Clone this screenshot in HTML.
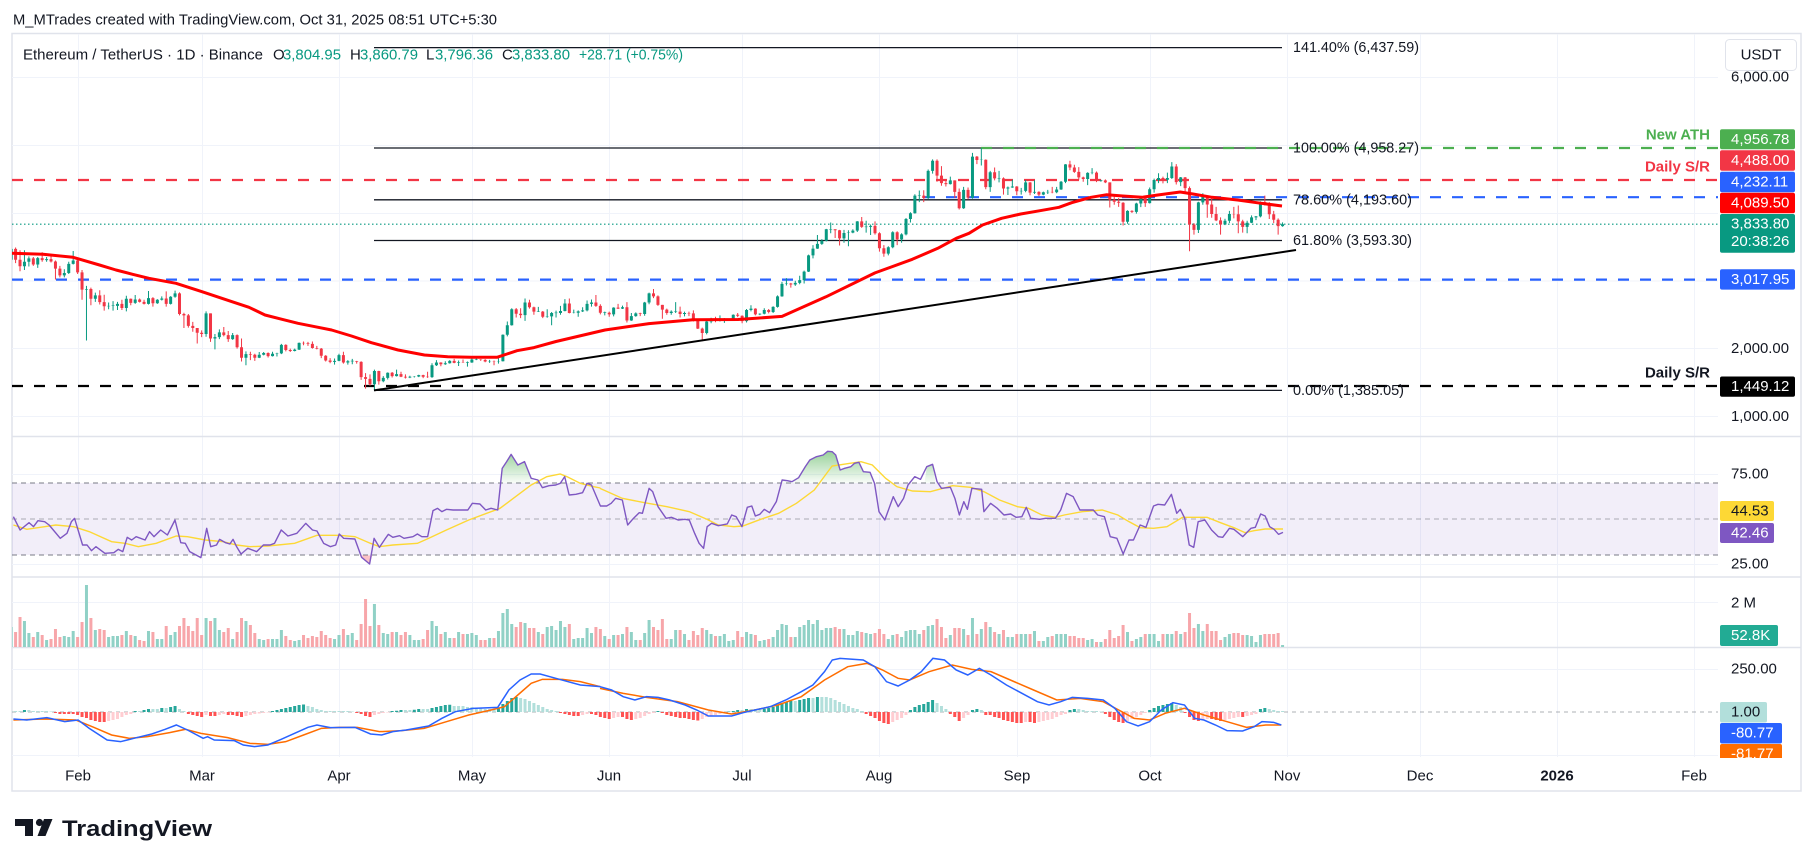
<!DOCTYPE html>
<html><head><meta charset="utf-8">
<style>
html,body{margin:0;padding:0;background:#fff;width:1814px;height:867px;overflow:hidden}
svg{display:block;font-family:"Liberation Sans",Arial,sans-serif}
.n{vector-effect:non-scaling-stroke;fill:none}
</style></head><body>
<svg width="1814" height="867" viewBox="0 0 1814 867" xmlns="http://www.w3.org/2000/svg">
<defs>
 <clipPath id="cm"><rect x="12" y="34" width="1706" height="402"/></clipPath>
 <clipPath id="cr"><rect x="12" y="437" width="1706" height="140"/></clipPath>
 <clipPath id="cv"><rect x="12" y="578" width="1706" height="69"/></clipPath>
 <clipPath id="cd"><rect x="12" y="648" width="1706" height="109"/></clipPath>
 <clipPath id="cax"><rect x="1700" y="648" width="114" height="110"/></clipPath>
 <linearGradient id="gg" x1="0" y1="60" x2="0" y2="160" gradientUnits="userSpaceOnUse"><stop offset="0" stop-color="#4caf50" stop-opacity="0.6"/><stop offset="1" stop-color="#4caf50" stop-opacity="0.03"/></linearGradient>
</defs>

<text x="13" y="20" font-size="15" fill="#131722" dominant-baseline="central" textLength="484" lengthAdjust="spacingAndGlyphs">M_MTrades created with TradingView.com, Oct 31, 2025 08:51 UTC+5:30</text>

<rect x="12" y="33.5" width="1789" height="757.5" fill="none" stroke="#e0e3eb" stroke-width="1.5"/>

<g stroke="#f0f3fa" stroke-width="1">
 <line x1="78.5" y1="34" x2="78.5" y2="757"/>
 <line x1="202.5" y1="34" x2="202.5" y2="757"/>
 <line x1="339.5" y1="34" x2="339.5" y2="757"/>
 <line x1="472.5" y1="34" x2="472.5" y2="757"/>
 <line x1="609.5" y1="34" x2="609.5" y2="757"/>
 <line x1="742.5" y1="34" x2="742.5" y2="757"/>
 <line x1="879.5" y1="34" x2="879.5" y2="757"/>
 <line x1="1017.5" y1="34" x2="1017.5" y2="757"/>
 <line x1="1150.5" y1="34" x2="1150.5" y2="757"/>
 <line x1="1287.5" y1="34" x2="1287.5" y2="757"/>
 <line x1="1420.5" y1="34" x2="1420.5" y2="757"/>
 <line x1="1557.5" y1="34" x2="1557.5" y2="757"/>
 <line x1="1694.5" y1="34" x2="1694.5" y2="757"/>
</g>
<g stroke="#f0f3fa" stroke-width="1">
 <line x1="12" y1="77.5" x2="1718" y2="77.5"/>
 <line x1="12" y1="145.5" x2="1718" y2="145.5"/>
 <line x1="12" y1="213.5" x2="1718" y2="213.5"/>
 <line x1="12" y1="281" x2="1718" y2="281"/>
 <line x1="12" y1="348.5" x2="1718" y2="348.5"/>
 <line x1="12" y1="416.5" x2="1718" y2="416.5"/>
 <line x1="12" y1="474.5" x2="1718" y2="474.5"/>
 <line x1="12" y1="564.5" x2="1718" y2="564.5"/>
 <line x1="12" y1="602.5" x2="1718" y2="602.5"/>
 <line x1="12" y1="669.5" x2="1718" y2="669.5"/>
 <line x1="12" y1="755.5" x2="1718" y2="755.5"/>
</g>
<g stroke="#e0e3eb" stroke-width="1.5">
 <line x1="12" y1="436.5" x2="1801" y2="436.5"/>
 <line x1="12" y1="577" x2="1801" y2="577"/>
 <line x1="12" y1="647.5" x2="1801" y2="647.5"/>
</g>

<rect x="12" y="483" width="1706" height="72" fill="#7e57c2" fill-opacity="0.1"/>
<g stroke="#787b86" stroke-width="1" stroke-dasharray="5 4">
 <line x1="12" y1="483" x2="1718" y2="483"/>
 <line x1="12" y1="519" x2="1718" y2="519" stroke-opacity="0.6"/>
 <line x1="12" y1="555" x2="1718" y2="555"/>
</g>
<line x1="12" y1="712" x2="1718" y2="712" stroke="#787b86" stroke-opacity="0.6" stroke-dasharray="4 4"/>

<g clip-path="url(#cm)">
 <line x1="12" y1="224.2" x2="1718" y2="224.2" stroke="#089981" stroke-width="1.2" stroke-dasharray="1.5 2.5"/>
 <line x1="12" y1="180" x2="1718" y2="180" stroke="#f23645" stroke-width="2.2" stroke-dasharray="11 11"/>
 <line x1="924" y1="197.2" x2="1718" y2="197.2" stroke="#2962ff" stroke-width="2.2" stroke-dasharray="11 11"/>
 <line x1="12" y1="279.6" x2="1718" y2="279.6" stroke="#2962ff" stroke-width="2.2" stroke-dasharray="11 11"/>
 <line x1="12" y1="386" x2="1718" y2="386" stroke="#000" stroke-width="2.2" stroke-dasharray="11 11"/>
 <g stroke="#131722" stroke-width="1.3">
  <line x1="374" y1="47.6" x2="1282" y2="47.6"/>
  <line x1="374" y1="148" x2="1282" y2="148"/>
  <line x1="374" y1="199.8" x2="1282" y2="199.8"/>
  <line x1="374" y1="240.5" x2="1282" y2="240.5"/>
  <line x1="374" y1="390.4" x2="1282" y2="390.4"/>
 </g>
 <line x1="981" y1="148" x2="1718" y2="148" stroke="#4caf50" stroke-width="2.2" stroke-dasharray="11 11"/>

 <g transform="matrix(4.43 0 0 -0.06785 6.73 484.35)">
  <path class="n" stroke="#089981" stroke-width="1" d="M1 3525V3290M4 3450V3160M5 3360V3210M7 3350V3190M9 3350V3280M13 3170V3050M14 3280V3100M15 3440V3240M18 2925V2120M20 2825V2690M23 2680V2580M24 2700V2560M25 2690V2570M27 2780V2550M29 2790V2660M32 2850V2650M34 2730V2660M35 2770V2710M37 2775V2650M38 2855V2750M45 2550V2175M47 2215V1990M48 2285V2140M51 2230V2130M54 1960V1755M57 1950V1860M58 1950V1900M60 1955V1885M61 1940V1885M62 2070V1920M65 2000V1960M66 2090V1980M74 1855V1765M75 1925V1815M77 1830V1765M78 1850V1770M83 1690V1385M85 1595V1505M86 1650V1545M88 1690V1590M91 1600V1565M92 1595V1575M93 1615V1580M96 1785V1570M97 1830V1745M99 1815V1760M100 1830V1780M102 1825V1745M104 1810V1735M105 1875V1790M106 1870V1830M109 1835V1790M111 1860V1780M112 2210V1810M113 2400V2180M114 2595V2340M117 2740V2410M120 2615V2540M122 2580V2455M123 2540V2345M124 2560V2460M125 2630V2500M126 2730V2550M128 2575V2520M129 2565V2470M130 2610V2540M131 2710V2550M132 2725V2620M135 2545V2490M137 2610V2475M139 2635V2585M141 2525V2410M142 2535V2470M144 2690V2485M145 2825V2655M150 2565V2500M151 2685V2525M153 2545V2475M158 2410V2210M159 2455V2375M161 2490V2400M162 2450V2380M163 2445V2410M164 2505V2425M167 2585V2385M168 2640V2550M170 2520V2495M171 2595V2505M173 2625V2525M174 2785V2605M175 2985V2765M176 3040V2930M178 3000V2925M179 3075V2950M180 3150V2960M181 3385V3130M182 3525V3330M183 3675V3470M184 3615V3530M185 3765V3580M186 3860V3700M189 3750V3560M190 3745V3510M191 3760V3700M192 3880V3720M194 3885V3710M195 3830V3675M199 3510V3375M200 3730V3480M202 3700V3560M203 3925V3670M204 4010V3860M205 4275V3990M206 4330V4160M208 4640V4200M209 4790V4580M213 4535V4420M216 4385V4060M218 4885V4210M220 4956V4700M222 4620V4310M224 4620V4450M226 4390V4265M227 4490V4370M229 4370V4270M230 4485V4305M232 4480V4280M234 4315V4260M235 4340V4280M237 4385V4290M238 4470V4340M239 4720V4440M244 4600V4410M245 4660V4570M247 4490V4460M253 4040V3840M255 4150V3990M256 4240V4085M258 4375V4140M259 4505V4300M260 4585V4440M262 4595V4440M263 4750V4500M265 4530V4395M269 4165V3705M270 4290V4120M275 3915V3820M276 4030V3850M280 3885V3700M281 3965V3850M282 3955V3895M283 4170V3935M288 3861V3796"/>
  <path class="n" stroke="#f23645" stroke-width="1" d="M0 3470V3270M2 3490V3260M3 3450V3140M6 3350V3220M8 3420V3280M10 3370V3270M11 3300V3020M12 3220V3050M16 3330V3100M17 3160V2720M19 2900V2640M21 2860V2650M22 2795V2560M26 2720V2570M28 2740V2640M30 2740V2680M31 2720V2650M33 2760V2620M36 2845V2620M39 2830V2490M40 2530V2305M41 2510V2310M42 2395V2250M43 2305V2075M44 2270V2170M46 2520V2100M49 2320V2180M50 2260V2100M52 2210V2000M53 2150V1810M55 1955V1830M56 1925V1820M59 1945V1870M63 2065V1960M64 2000V1950M67 2105V2050M68 2100V2040M69 2105V2000M70 2040V1990M71 2010V1860M72 1905V1810M73 1860V1785M76 1955V1780M79 1820V1780M80 1815V1540M81 1640V1410M82 1620V1455M84 1675V1470M87 1655V1575M89 1660V1580M90 1620V1560M94 1615V1565M95 1660V1570M98 1800V1740M101 1850V1785M103 1840V1790M107 1845V1820M108 1845V1800M110 1825V1755M115 2600V2460M116 2595V2450M118 2720V2590M119 2620V2500M121 2555V2450M127 2740V2520M133 2790V2615M134 2655V2505M136 2545V2470M138 2660V2585M140 2685V2385M143 2530V2480M146 2880V2745M147 2785V2630M148 2645V2440M149 2590V2500M152 2620V2460M154 2545V2480M155 2565V2400M156 2435V2290M157 2310V2110M160 2470V2390M165 2525V2465M166 2490V2375M169 2595V2490M172 2585V2520M177 2970V2900M187 3760V3630M188 3750V3520M193 3940V3780M196 3875V3680M197 3715V3430M198 3525V3355M201 3730V3525M207 4335V4160M210 4790V4460M211 4690V4400M212 4480V4390M214 4480V4220M215 4360V4050M217 4375V4200M219 4840V4720M221 4790V4350M223 4670V4480M225 4525V4270M228 4395V4260M231 4455V4260M233 4320V4250M236 4385V4290M240 4770V4630M241 4710V4590M242 4675V4490M243 4535V4460M246 4610V4455M248 4495V4440M249 4450V4080M250 4240V4120M251 4220V4090M252 4160V3815M254 4040V4000M257 4235V4090M261 4535V4435M264 4720V4420M266 4530V4300M267 4390V3435M268 3850V3680M271 4255V3930M272 4215V3930M273 4090V3880M274 3935V3680M277 4090V3920M278 4110V3700M279 3900V3710M284 4255V4110M285 4160V3910M286 4030V3850M287 3920V3680"/>
  <path class="n" stroke="#089981" stroke-width="3" d="M1 3310V3470M4 3215V3280M5 3280V3330M7 3240V3335M9 3305V3320M13 3080V3115M14 3115V3250M15 3250V3300M18 2870V2880M20 2735V2785M23 2625V2630M24 2628V2636M25 2630V2660M27 2600V2735M29 2675V2725M32 2660V2745M34 2670V2720M35 2720V2740M37 2660V2765M38 2765V2815M45 2215V2520M47 2150V2170M48 2170V2240M51 2140V2200M54 1865V1920M57 1865V1910M58 1910V1935M60 1890V1925M61 1925V1930M62 1930V2055M65 1965V1985M66 1985V2085M74 1805V1820M75 1820V1905M77 1795V1815M78 1813V1821M83 1475V1670M85 1520V1570M86 1570V1645M88 1595V1625M91 1575V1585M92 1585V1590M93 1590V1610M96 1580V1755M97 1755V1795M99 1770V1785M100 1785V1820M102 1790V1800M104 1793V1801M105 1795V1840M106 1838V1846M109 1810V1815M111 1810V1815M112 1815V2205M113 2205V2345M114 2345V2580M117 2495V2680M120 2543V2551M122 2470V2475M123 2475V2525M124 2523V2531M125 2525V2555M126 2555V2665M128 2525V2530M129 2530V2550M130 2550V2565M131 2565V2660M132 2660V2680M135 2528V2536M137 2505V2605M139 2590V2610M141 2415V2480M142 2480V2520M144 2510V2680M145 2680V2815M150 2525V2545M151 2543V2551M153 2510V2525M158 2230V2400M159 2400V2445M161 2415V2420M162 2420V2425M163 2425V2435M164 2435V2500M167 2405V2570M168 2570V2590M170 2505V2515M171 2515V2570M173 2540V2615M174 2615V2770M175 2770V2955M176 2955V2960M178 2945V2970M179 2970V3010M180 3010V3135M181 3135V3375M182 3375V3475M183 3475V3545M184 3545V3590M185 3590V3760M186 3756V3764M189 3625V3705M190 3705V3710M191 3710V3740M192 3740V3875M194 3791V3799M195 3795V3810M199 3400V3495M200 3495V3715M202 3610V3685M203 3685V3910M204 3910V3995M205 3995V4255M206 4251V4259M208 4220V4620M209 4620V4770M213 4425V4480M216 4070V4340M218 4225V4830M220 4780V4785M222 4380V4600M224 4506V4514M226 4360V4375M227 4375V4390M229 4320V4325M230 4325V4450M232 4300V4310M234 4270V4305M235 4305V4310M237 4305V4345M238 4345V4460M239 4460V4715M244 4500V4590M245 4590V4595M247 4470V4480M253 3870V4030M255 4015V4140M256 4140V4215M258 4145V4350M259 4350V4485M260 4485V4515M262 4490V4515M263 4515V4685M265 4455V4525M269 3750V4155M270 4155V4245M275 3830V3885M276 3885V3985M280 3795V3855M281 3855V3935M282 3935V3950M283 3950V4160M288 3805V3834"/>
  <path class="n" stroke="#f23645" stroke-width="3" d="M0 3440V3310M2 3470V3310M3 3310V3215M6 3330V3240M8 3335V3305M10 3320V3285M11 3285V3180M12 3180V3080M16 3300V3125M17 3125V2870M19 2880V2735M21 2785V2685M22 2685V2625M26 2660V2600M28 2735V2675M30 2725V2690M31 2690V2660M33 2745V2670M36 2740V2660M39 2815V2510M40 2510V2490M41 2490V2335M42 2335V2305M43 2305V2235M44 2235V2215M46 2520V2150M49 2240V2200M50 2200V2140M52 2200V2020M53 2020V1865M55 1920V1910M56 1910V1865M59 1935V1890M63 2055V1980M64 1980V1965M67 2085V2080M68 2080V2070M69 2070V2010M70 2010V2000M71 2000V1895M72 1895V1825M73 1825V1805M76 1905V1795M79 1815V1805M80 1805V1580M81 1580V1555M82 1555V1475M84 1670V1520M87 1645V1595M89 1625V1585M90 1585V1575M94 1610V1585M95 1585V1580M98 1795V1770M101 1820V1790M103 1800V1795M107 1840V1835M108 1835V1810M110 1815V1810M115 2580V2515M116 2515V2495M118 2680V2610M119 2610V2545M121 2545V2470M127 2665V2525M133 2680V2630M134 2630V2530M136 2530V2505M138 2605V2590M140 2610V2415M143 2520V2510M146 2815V2770M147 2770V2645M148 2645V2575M149 2575V2525M152 2545V2510M154 2525V2520M155 2520V2410M156 2410V2295M157 2295V2230M160 2445V2415M165 2500V2485M166 2485V2405M169 2590V2505M172 2570V2540M177 2960V2945M187 3760V3745M188 3745V3625M193 3875V3795M196 3810V3700M197 3700V3480M198 3480V3400M201 3715V3610M207 4255V4220M210 4770V4550M211 4550V4440M212 4440V4425M214 4480V4310M215 4310V4070M217 4340V4225M219 4830V4780M221 4785V4380M223 4600V4510M225 4510V4360M228 4390V4320M231 4450V4300M233 4310V4270M236 4310V4305M240 4715V4670M241 4670V4605M242 4605V4525M243 4525V4500M246 4595V4470M248 4480V4450M249 4450V4195M250 4195V4165M251 4165V4150M252 4150V3870M254 4030V4015M257 4215V4145M261 4515V4490M264 4685V4455M266 4525V4365M267 4365V3830M268 3830V3750M271 4245V4125M272 4125V3985M273 3985V3890M274 3890V3830M277 3985V3980M278 3980V3875M279 3875V3795M284 4160V4120M285 4120V3980M286 3980V3900M287 3900V3805"/>
 </g>

 <polyline fill="none" stroke="#ff0000" stroke-width="3" stroke-linejoin="round" points="12,253.3 43,254.3 73,257.3 80,259.3 99.5,265 116,270 132.6,274.3 149,278.3 176,283.3 202,291.7 232,301.7 249,307.3 265,315 282,319.3 298,323.3 315,326.7 331.6,330 351.5,336 371.4,342.7 398,350 424.4,355 447.7,356.7 471,357.3 497,357.3 507,354 517,350.7 534,347.6 556,341.5 605,330 649,323.6 693,319.8 738,319.5 782,316.4 826,296.8 875,272.9 912.3,259.3 937.8,248.3 956.3,238.3 969,233.3 982.5,225 1001.6,218.3 1020.7,214 1040,210.7 1059,207.3 1071.7,202.7 1091,197.3 1106.8,194.7 1122.8,196 1141.9,197.3 1157.8,195 1180.2,192 1193,194 1212,197.3 1237.6,200 1256.7,202.7 1282,206"/>
 <line x1="374" y1="390.4" x2="1296" y2="250" stroke="#000" stroke-width="2"/>
</g>

<g font-size="15" fill="#131722" dominant-baseline="central">
 <text x="1293" y="47.6" textLength="126" lengthAdjust="spacingAndGlyphs">141.40% (6,437.59)</text>
 <text x="1293" y="148" textLength="126" lengthAdjust="spacingAndGlyphs">100.00% (4,958.27)</text>
 <text x="1293" y="199.8" textLength="119" lengthAdjust="spacingAndGlyphs">78.60% (4,193.60)</text>
 <text x="1293" y="240.5" textLength="119" lengthAdjust="spacingAndGlyphs">61.80% (3,593.30)</text>
 <text x="1293" y="390.4" textLength="111" lengthAdjust="spacingAndGlyphs">0.00% (1,385.05)</text>
</g>
<g font-size="15" font-weight="bold" dominant-baseline="central" text-anchor="end">
 <text x="1710" y="135" fill="#4caf50">New ATH</text>
 <text x="1710" y="167" fill="#f23645">Daily S/R</text>
 <text x="1710" y="373" fill="#131722">Daily S/R</text>
</g>

<g font-size="15" dominant-baseline="central">
 <text x="23" y="55" fill="#131722" textLength="240" lengthAdjust="spacingAndGlyphs">Ethereum / TetherUS · 1D · Binance</text>
 <text x="273" y="55" fill="#131722">O</text>
 <text x="283" y="55" fill="#089981" textLength="58" lengthAdjust="spacingAndGlyphs">3,804.95</text>
 <text x="350" y="55" fill="#131722">H</text>
 <text x="360" y="55" fill="#089981" textLength="58" lengthAdjust="spacingAndGlyphs">3,860.79</text>
 <text x="426" y="55" fill="#131722">L</text>
 <text x="435" y="55" fill="#089981" textLength="58" lengthAdjust="spacingAndGlyphs">3,796.36</text>
 <text x="502" y="55" fill="#131722">C</text>
 <text x="512" y="55" fill="#089981" textLength="58" lengthAdjust="spacingAndGlyphs">3,833.80</text>
 <text x="579" y="55" fill="#089981" textLength="104" lengthAdjust="spacingAndGlyphs">+28.71 (+0.75%)</text>
</g>

<!-- RSI -->
<g clip-path="url(#cr)">
 <g transform="translate(0 430) scale(0.4464 0.33333)">
  <polygon fill="url(#gg)" points="1122,160 1125,115 1135,95 1145,73 1160,105 1175,95 1190,145 1198,160"/>
  <polygon fill="#f23645" fill-opacity="0.3" points="806,376 810,382 828,402 834,376"/>
  <polyline class="n" stroke="#fdd835" stroke-width="1.4" points="30,285 60,298 100,290 125,285 165,290 200,305 250,335 280,340 310,350 350,340 395,318 420,320 460,330 500,335 530,345 560,350 600,348 660,340 710,316 760,316 795,320 830,340 850,350 880,345 935,340 960,325 1000,300 1050,270 1120,235 1150,205 1190,165 1225,140 1255,132 1270,140 1300,160 1330,170 1345,174"/>
  <polyline class="n" stroke="#7e57c2" stroke-width="1.4" stroke-linejoin="round" points="30,260 45,300 65,278 75,290 85,272 100,275 110,285 135,325 150,310 160,275 167,265 185,345 195,345 205,362 215,350 235,370 255,368 265,358 275,365 285,322 295,330 305,320 325,330 335,305 345,320 360,300 375,315 392,270 405,338 415,340 425,365 450,383 463,295 472,350 485,345 492,328 505,338 515,342 522,328 530,350 540,372 555,355 575,365 590,345 605,345 615,340 630,300 645,318 665,310 685,280 700,300 710,303 725,340 740,350 752,345 760,312 770,325 795,327 810,382 828,402 838,325 850,352 862,328 870,313 880,322 895,317 905,325 925,320 935,312 945,320 958,320 970,242 980,235 990,245 1000,238 1015,240 1048,240 1058,220 1075,222 1088,240 1100,235 1115,240 1125,115 1135,95 1145,73 1160,105 1175,95 1190,145 1205,150 1215,173 1230,167 1245,165 1255,160 1265,140 1275,195 1290,193 1305,188 1315,160 1325,165 1345,228"/>
 </g>
 <g transform="translate(600 430) scale(0.4464 0.33333)">
  <polygon fill="url(#gg)" points="402,160 408,150 420,152 430,155 445,143 460,110 470,90 485,80 500,75 510,64 520,65 528,75 538,120 548,115 562,110 570,100 580,97 590,125 605,127 612,160"/>
  <polygon fill="url(#gg)" points="727,160 732,110 745,103 752,160"/>
  <polyline class="n" stroke="#fdd835" stroke-width="1.4" points="0,175 50,205 100,218 150,230 200,245 240,268 265,285 300,290 320,288 360,268 400,250 440,220 480,180 520,108 560,100 585,95 610,105 640,145 665,170 700,183 740,185 760,178 790,167 830,172 860,185 895,210 935,230 960,235 990,255 1020,262 1040,255 1080,245 1125,240 1160,255 1185,275 1210,293 1240,295 1270,290 1305,262 1330,262 1360,262 1390,278 1420,293 1445,308 1465,302 1490,297 1530,297"/>
  <polyline class="n" stroke="#7e57c2" stroke-width="1.4" stroke-linejoin="round" points="0,228 15,228 25,220 35,205 50,210 62,285 75,265 88,248 95,250 110,175 118,185 130,230 148,265 160,262 175,270 190,268 200,270 212,310 222,340 232,355 240,290 250,280 265,287 285,282 295,255 305,260 318,290 330,232 340,228 348,258 358,253 368,238 380,248 395,215 408,150 420,152 430,155 445,143 460,110 470,90 485,80 500,75 510,64 520,65 528,75 538,120 548,115 562,110 570,100 580,97 590,125 605,127 615,160 625,245 638,270 657,200 668,230 680,205 690,165 705,140 718,148 732,110 745,103 755,155 765,175 785,172 795,205 805,255 815,215 823,238 833,175 855,178 860,245 875,220 890,235 905,255 920,252 932,262 945,260 955,232 965,265 985,268 998,265 1020,265 1032,240 1045,190 1060,200 1075,240 1090,240 1105,240 1115,255 1130,260 1143,320 1158,325 1172,372 1185,330 1195,330 1210,285 1223,292 1240,228 1250,223 1265,225 1280,193 1292,250 1300,238 1310,265 1320,345 1330,352 1340,275 1355,270 1370,300 1385,320 1395,322 1410,295 1420,298 1440,320 1458,295 1468,292 1480,252 1490,258 1500,290 1510,298 1520,313 1530,307"/>
 </g>
</g>

<!-- Volume -->
<g clip-path="url(#cv)">
 <g transform="matrix(4.43 0 0 1 6.73 647)">
  <path class="n" stroke="#90d1c6" stroke-width="3" d="M1 0V-20M4 0V-26M5 0V-14M7 0V-15M9 0V-7M13 0V-11M14 0V-10M15 0V-16M18 0V-62M20 0V-17M23 0V-10M24 0V-11M25 0V-11M27 0V-16M29 0V-11M32 0V-16M34 0V-8M35 0V-8M37 0V-12M38 0V-15M45 0V-29M47 0V-29M48 0V-17M51 0V-8M54 0V-26M57 0V-8M58 0V-7M60 0V-8M61 0V-8M62 0V-17M65 0V-6M66 0V-7M74 0V-8M75 0V-12M77 0V-12M78 0V-14M83 0V-43M85 0V-14M86 0V-13M88 0V-15M91 0V-12M92 0V-7M93 0V-7M96 0V-26M97 0V-21M99 0V-15M100 0V-9M102 0V-15M104 0V-13M105 0V-14M106 0V-12M109 0V-9M111 0V-16M112 0V-34M113 0V-38M114 0V-23M117 0V-24M120 0V-15M122 0V-20M123 0V-21M124 0V-17M125 0V-26M126 0V-20M128 0V-8M129 0V-9M130 0V-9M131 0V-19M132 0V-14M135 0V-11M137 0V-12M139 0V-13M141 0V-15M142 0V-7M144 0V-14M145 0V-27M150 0V-8M151 0V-17M153 0V-13M158 0V-17M159 0V-13M161 0V-11M162 0V-13M163 0V-6M164 0V-7M167 0V-15M168 0V-13M170 0V-6M171 0V-7M173 0V-10M174 0V-17M175 0V-23M176 0V-22M178 0V-10M179 0V-20M180 0V-22M181 0V-27M182 0V-23M183 0V-27M184 0V-17M185 0V-19M186 0V-19M189 0V-18M190 0V-12M191 0V-12M192 0V-16M194 0V-14M195 0V-13M199 0V-8M200 0V-12M202 0V-10M203 0V-16M204 0V-17M205 0V-17M206 0V-13M208 0V-21M209 0V-22M213 0V-12M216 0V-18M218 0V-29M220 0V-18M222 0V-20M224 0V-13M226 0V-10M227 0V-10M229 0V-13M230 0V-13M232 0V-16M234 0V-6M235 0V-10M237 0V-13M238 0V-13M239 0V-13M244 0V-7M245 0V-8M247 0V-5M253 0V-15M255 0V-8M256 0V-10M258 0V-13M259 0V-13M260 0V-6M262 0V-13M263 0V-13M265 0V-13M269 0V-23M270 0V-16M275 0V-10M276 0V-13M280 0V-12M281 0V-11M282 0V-5M283 0V-12M288 0V-2"/>
  <path class="n" stroke="#f7a6aa" stroke-width="3" d="M0 0V-14M2 0V-15M3 0V-30M6 0V-10M8 0V-12M10 0V-8M11 0V-18M12 0V-10M16 0V-10M17 0V-25M19 0V-29M21 0V-18M22 0V-17M26 0V-12M28 0V-12M30 0V-7M31 0V-6M33 0V-15M36 0V-21M39 0V-21M40 0V-29M41 0V-21M42 0V-16M43 0V-29M44 0V-12M46 0V-26M49 0V-15M50 0V-19M52 0V-15M53 0V-29M55 0V-22M56 0V-14M59 0V-8M63 0V-11M64 0V-7M67 0V-12M68 0V-9M69 0V-11M70 0V-10M71 0V-16M72 0V-12M73 0V-9M76 0V-18M79 0V-7M80 0V-23M81 0V-48M82 0V-21M84 0V-22M87 0V-15M89 0V-12M90 0V-15M94 0V-8M95 0V-17M98 0V-13M101 0V-9M103 0V-13M107 0V-7M108 0V-7M110 0V-9M115 0V-20M116 0V-25M118 0V-19M119 0V-19M121 0V-13M127 0V-23M133 0V-20M134 0V-18M136 0V-8M138 0V-12M140 0V-20M143 0V-7M146 0V-20M147 0V-17M148 0V-28M149 0V-8M152 0V-17M154 0V-7M155 0V-16M156 0V-12M157 0V-19M160 0V-11M165 0V-16M166 0V-10M169 0V-12M172 0V-8M177 0V-10M187 0V-20M188 0V-18M193 0V-15M196 0V-14M197 0V-18M198 0V-13M201 0V-13M207 0V-17M210 0V-28M211 0V-20M212 0V-9M214 0V-19M215 0V-19M217 0V-12M219 0V-13M221 0V-25M223 0V-15M225 0V-17M228 0V-13M231 0V-13M233 0V-6M236 0V-11M240 0V-11M241 0V-11M242 0V-9M243 0V-9M246 0V-5M248 0V-8M249 0V-17M250 0V-9M251 0V-11M252 0V-22M254 0V-6M257 0V-13M261 0V-13M264 0V-16M266 0V-15M267 0V-34M268 0V-19M271 0V-23M272 0V-16M273 0V-16M274 0V-7M277 0V-14M278 0V-14M279 0V-12M284 0V-13M285 0V-13M286 0V-13M287 0V-14"/>
 </g>
</g>

<!-- MACD -->
<g clip-path="url(#cd)">
 <g transform="matrix(4.43 0 0 1 6.73 712)">
  <path class="n" stroke="#26a69a" stroke-width="3" d="M0 0V-1M4 0V-2M29 0V-1M31 0V-2M32 0V-3M35 0V-4M37 0V-5M38 0V-6M60 0V-1M61 0V-2M62 0V-3M63 0V-4M64 0V-5M65 0V-6M66 0V-7M67 0V-7.5M87 0V-1M88 0V-1.2M89 0V-2M92 0V-2.2M93 0V-3M96 0V-4M97 0V-5M98 0V-6M99 0V-7M100 0V-7.2M111 0V-4M112 0V-8M113 0V-11M114 0V-14M115 0V-15M147 0V-1M163 0V-0.5M164 0V-1M165 0V-2M167 0V-3M171 0V-3.3M172 0V-4M173 0V-5M174 0V-7M175 0V-9M176 0V-10M177 0V-11M179 0V-12M180 0V-13M181 0V-14M183 0V-15M204 0V-2M205 0V-5M206 0V-7M207 0V-8M208 0V-10M209 0V-12M218 0V-2M219 0V-3M240 0V-2M241 0V-3M258 0V-2M259 0V-4M260 0V-6M261 0V-7M262 0V-8M263 0V-9M283 0V-3M284 0V-4"/>
  <path class="n" stroke="#b2dfdb" stroke-width="3" d="M1 0V-1M2 0V-1M3 0V-1M5 0V-2M6 0V-1M7 0V-1M8 0V-1M9 0V-1M10 0V-0.5M30 0V-1M33 0V-3M34 0V-3M36 0V-4M39 0V-3M40 0V-1M68 0V-6M69 0V-5M70 0V-3M71 0V-2M72 0V-1M73 0V-1M74 0V-1M75 0V-1M76 0V-1M77 0V-1M78 0V-0.5M90 0V-2M91 0V-2M94 0V-3M95 0V-3M101 0V-6M102 0V-6M103 0V-6M104 0V-5M105 0V-5M106 0V-4M107 0V-4M108 0V-3M109 0V-3M110 0V-3M116 0V-14M117 0V-13M118 0V-11M119 0V-9M120 0V-7M121 0V-5M122 0V-3M123 0V-2M124 0V-1M166 0V-2M168 0V-3M169 0V-3M170 0V-3M178 0V-11M182 0V-14M184 0V-15M185 0V-15M186 0V-14M187 0V-12M188 0V-10M189 0V-8M190 0V-6M191 0V-4M192 0V-3M193 0V-1M210 0V-9M211 0V-6M212 0V-3M220 0V-2M242 0V-3M243 0V-2M244 0V-1M245 0V-1M246 0V-1M247 0V-0.5M264 0V-7M265 0V-5M285 0V-3M286 0V-2M287 0V-1M288 0V-1"/>
  <path class="n" stroke="#ffcdd2" stroke-width="3" d="M23 0V9M24 0V8M25 0V7M26 0V5M27 0V3M28 0V2M45 0V3M48 0V3M49 0V2M54 0V4M55 0V3M56 0V2M57 0V1.5M58 0V1M59 0V0.5M83 0V3M84 0V2M85 0V1M86 0V0.5M130 0V3M131 0V2M137 0V6M138 0V5M142 0V7M143 0V6M144 0V4M145 0V2M146 0V1M157 0V7M158 0V5M159 0V4M160 0V3M161 0V2M162 0V1M200 0V10M201 0V8M202 0V6M203 0V3M216 0V6M217 0V3M230 0V10M233 0V10M234 0V9M235 0V8M236 0V7M237 0V5M238 0V3M239 0V2M253 0V9M254 0V7M255 0V5M256 0V3M257 0V1M270 0V8M271 0V7M275 0V8M276 0V7M277 0V6M278 0V5M280 0V4M281 0V3M282 0V2"/>
  <path class="n" stroke="#ff5252" stroke-width="3" d="M11 0V1M12 0V2M13 0V2M14 0V2M15 0V2M16 0V3M17 0V5M18 0V6M19 0V8M20 0V9M21 0V10M22 0V10M41 0V2M42 0V3M43 0V4M44 0V5M46 0V4M47 0V4M50 0V3M51 0V3M52 0V4M53 0V5M79 0V1M80 0V2M81 0V4M82 0V5M125 0V1M126 0V2M127 0V3M128 0V4M129 0V4M132 0V2M133 0V3M134 0V5M135 0V6M136 0V7M139 0V5M140 0V7M141 0V8M148 0V1M149 0V3M150 0V4M151 0V5M152 0V6M153 0V6M154 0V7M155 0V8M156 0V8.5M194 0V2M195 0V4M196 0V6M197 0V9M198 0V11M199 0V12M213 0V2M214 0V5M215 0V9M221 0V3M222 0V3M223 0V5M224 0V6M225 0V8M226 0V9M227 0V10M228 0V11M229 0V11M231 0V10M232 0V11M248 0V2M249 0V5M250 0V8M251 0V10M252 0V11M266 0V1M267 0V5M268 0V8M269 0V9M272 0V7M273 0V8M274 0V9M279 0V5"/>
 </g>
 <g transform="translate(0 640) scale(0.4464 0.33333)">
  <polyline class="n" stroke="#ff6d00" stroke-width="1.5" points="30,240 100,237 170,240 210,262 250,285 290,295 330,290 380,278 415,268 450,280 510,293 560,310 600,313 640,305 680,285 720,265 760,262 800,262 850,275 900,272 950,265 1000,245 1050,225 1100,210 1130,200 1160,165 1190,130 1215,118 1260,118 1300,125 1345,140"/>
  <polyline class="n" stroke="#2962ff" stroke-width="1.5" points="30,237 60,240 105,233 145,245 175,240 200,265 240,300 270,305 300,295 340,282 370,268 395,255 420,270 455,295 465,290 480,300 525,302 545,315 570,320 600,315 630,298 660,280 690,262 710,255 740,263 795,262 830,282 855,285 880,275 910,270 960,258 990,235 1020,215 1060,205 1115,202 1140,150 1165,120 1190,102 1210,102 1245,115 1300,135 1345,140"/>
 </g>
 <g transform="translate(600 640) scale(0.7742 0.33333)">
  <polyline class="n" stroke="#ff6d00" stroke-width="1.5" points="0,145 30,160 60,172 100,185 140,210 170,222 200,210 230,195 260,170 290,120 320,80 345,70 365,90 385,115 400,120 425,95 455,75 480,88 505,95 530,120 560,150 590,180 620,175 650,185 670,210 690,235 710,240 730,220 755,205 780,225 810,245 835,262 860,255 880,255"/>
  <polyline class="n" stroke="#2962ff" stroke-width="1.5" points="0,140 15,150 30,170 45,180 60,170 75,172 90,180 110,195 125,210 140,228 170,228 185,218 200,210 220,200 240,180 260,155 275,135 290,95 300,60 310,55 340,60 355,80 370,125 385,138 400,120 415,95 430,55 445,60 460,90 475,105 490,85 505,105 525,135 545,160 565,185 580,195 595,185 610,172 630,175 650,180 665,205 680,245 695,258 710,245 725,210 740,188 755,195 768,235 780,240 795,255 810,272 830,273 845,260 855,245 870,247 880,255"/>
 </g>
</g>

<g font-size="15" fill="#131722" dominant-baseline="central">
 <text x="1731" y="77" textLength="58" lengthAdjust="spacingAndGlyphs">6,000.00</text>
 <text x="1731" y="348.6" textLength="58" lengthAdjust="spacingAndGlyphs">2,000.00</text>
 <text x="1731" y="416.5" textLength="58" lengthAdjust="spacingAndGlyphs">1,000.00</text>
 <text x="1731" y="474">75.00</text>
 <text x="1731" y="564">25.00</text>
 <text x="1731" y="603">2 M</text>
 <text x="1731" y="669">250.00</text>
</g>
<rect x="1725.5" y="39.5" width="71" height="31" rx="4" fill="#fff" stroke="#e0e3eb"/>
<text x="1761" y="55" font-size="15" fill="#131722" text-anchor="middle" dominant-baseline="central">USDT</text>

<g font-size="15" dominant-baseline="central">
 <rect x="1720" y="129.3" width="75" height="20" rx="2" fill="#4caf50"/>
 <text x="1731" y="139.3" fill="#fff">4,956.78</text>
 <rect x="1720" y="150.3" width="75" height="20.5" rx="2" fill="#f23645"/>
 <text x="1731" y="160.5" fill="#fff">4,488.00</text>
 <rect x="1720" y="171.8" width="75" height="20.5" rx="2" fill="#2962ff"/>
 <text x="1731" y="182" fill="#fff">4,232.11</text>
 <rect x="1720" y="192.8" width="75" height="20.5" rx="2" fill="#ff0000"/>
 <text x="1731" y="203" fill="#fff">4,089.50</text>
 <rect x="1720" y="214" width="75" height="38.7" rx="2" fill="#089981"/>
 <text x="1731" y="223.8" fill="#fff">3,833.80</text>
 <text x="1731" y="241.5" fill="#fff">20:38:26</text>
 <rect x="1720" y="269.3" width="75" height="20.3" rx="2" fill="#2962ff"/>
 <text x="1731" y="279.5" fill="#fff">3,017.95</text>
 <rect x="1720" y="376.5" width="75" height="20.3" rx="2" fill="#000"/>
 <text x="1731" y="386.6" fill="#fff">1,449.12</text>
 <rect x="1720" y="501" width="54" height="20" rx="2" fill="#fdd835"/>
 <text x="1731" y="511" fill="#131722">44.53</text>
 <rect x="1720" y="523" width="54" height="20" rx="2" fill="#7e57c2"/>
 <text x="1731" y="533" fill="#fff">42.46</text>
 <rect x="1720" y="625" width="58" height="21" rx="2" fill="#22ab94"/>
 <text x="1731" y="635.5" fill="#fff">52.8K</text>
 <g clip-path="url(#cax)">
  <rect x="1720" y="702" width="47" height="20.5" rx="2" fill="#b2dfdb"/>
  <text x="1731" y="712.2" fill="#131722">1.00</text>
  <rect x="1720" y="723" width="62" height="20.5" rx="2" fill="#2962ff"/>
  <text x="1731" y="733.2" fill="#fff">-80.77</text>
  <rect x="1720" y="744" width="62" height="20.5" rx="2" fill="#ff6d00"/>
  <text x="1731" y="754.2" fill="#fff">-81.77</text>
 </g>
</g>

<g font-size="15" fill="#131722" text-anchor="middle" dominant-baseline="central">
 <text x="78" y="776">Feb</text>
 <text x="202" y="776">Mar</text>
 <text x="339" y="776">Apr</text>
 <text x="472" y="776">May</text>
 <text x="609" y="776">Jun</text>
 <text x="742" y="776">Jul</text>
 <text x="879" y="776">Aug</text>
 <text x="1017" y="776">Sep</text>
 <text x="1150" y="776">Oct</text>
 <text x="1287" y="776">Nov</text>
 <text x="1420" y="776">Dec</text>
 <text x="1557" y="776" font-weight="bold">2026</text>
 <text x="1694" y="776">Feb</text>
</g>

<g fill="#131722">
 <path d="M15 819 H33 V836 H25 V826 H15 Z"/>
 <circle cx="39.5" cy="822.5" r="3.6"/>
 <path d="M44 819 H52.5 L45.5 836 H37.5 Z"/>
</g>
<text x="62" y="836" font-size="22" font-weight="bold" fill="#131722" textLength="150" lengthAdjust="spacingAndGlyphs">TradingView</text>
</svg>
</body></html>
